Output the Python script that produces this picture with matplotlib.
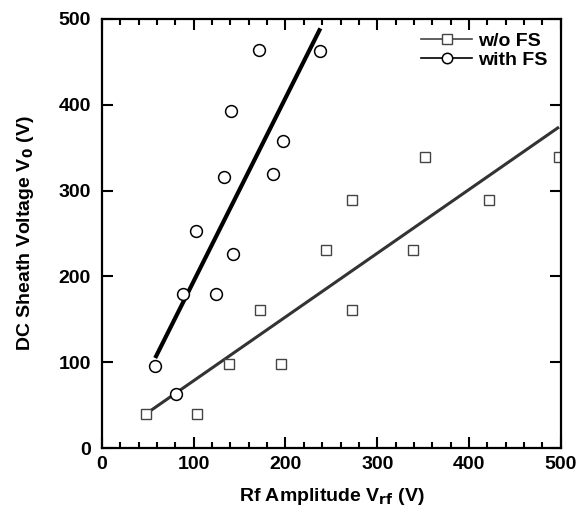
import matplotlib
matplotlib.use("Agg")
import matplotlib.pyplot as plt
from matplotlib.ticker import MultipleLocator

# data
wo_fs_x = [48, 104, 138, 195, 172, 273, 244, 339, 273, 422, 352, 498]
wo_fs_y = [40, 40, 98, 98, 161, 161, 231, 231, 289, 289, 339, 339]

with_fs_x = [58, 81, 88, 124, 102, 143, 133, 186, 197, 141, 171, 238]
with_fs_y = [96, 63, 180, 180, 253, 226, 316, 319, 358, 393, 464, 463]

# straight fit lines (end points)
wo_fit_x = [48, 498]
wo_fit_y = [40, 374]
with_fit_x = [58, 238]
with_fit_y = [105, 489]

font = ['Liberation Sans Narrow', 'Liberation Sans', 'DejaVu Sans']
plt.rcParams['font.family'] = font
plt.rcParams['font.weight'] = 'bold'
plt.rcParams['mathtext.fontset'] = 'custom'
plt.rcParams['mathtext.rm'] = 'Liberation Sans Narrow:bold'
plt.rcParams['mathtext.it'] = 'Liberation Sans Narrow:bold'
plt.rcParams['mathtext.bf'] = 'Liberation Sans Narrow:bold'

fig = plt.figure(figsize=(5.86, 5.11), dpi=100)
ax = fig.add_axes([0.174, 0.123, 0.783, 0.84])

# lines
ax.plot(wo_fit_x, wo_fit_y, color='#333333', lw=2.2, solid_capstyle='butt')
ax.plot(with_fit_x, with_fit_y, color='black', lw=3.0, solid_capstyle='butt')

# markers
ax.plot(wo_fs_x, wo_fs_y, ls='none', marker='s', ms=7.5, mfc='white',
        mec='#444444', mew=1.0)
ax.plot(with_fs_x, with_fs_y, ls='none', marker='o', ms=8.5, mfc='white',
        mec='black', mew=1.1)

# legend handles
h1, = ax.plot([], [], color='#444444', lw=1.2, marker='s', ms=7, mfc='white',
              mec='#444444', mew=1.0, label='w/o FS')
h2, = ax.plot([], [], color='black', lw=1.2, marker='o', ms=7.5, mfc='white',
              mec='black', mew=1.1, label='with FS')
leg = ax.legend(handles=[h1, h2], loc='upper right', frameon=False,
                handlelength=2.6, handletextpad=0.3, labelspacing=0.05,
                borderaxespad=0.3, fontsize=14, markerscale=1.0)

ax.set_xlim(0, 500)
ax.set_ylim(0, 500)
ax.xaxis.set_major_locator(MultipleLocator(100))
ax.xaxis.set_minor_locator(MultipleLocator(20))
ax.yaxis.set_major_locator(MultipleLocator(100))

ax.tick_params(which='both', direction='in', top=True, right=True,
               labelsize=14, width=1.5)
ax.tick_params(which='major', length=8)
ax.tick_params(which='minor', length=4)
ax.tick_params(axis='x', which='major', pad=6)
ax.tick_params(axis='y', which='major', pad=8)
for s in ax.spines.values():
    s.set_linewidth(1.6)

ax.set_xlabel(r'Rf Amplitude V$_{\mathbf{rf}}$ (V)', fontsize=14,
              fontweight='bold', labelpad=9)
ax.set_ylabel(r'DC Sheath Voltage V$_{\mathbf{0}}$ (V)', fontsize=14,
              fontweight='bold', labelpad=16)

fig.savefig('out.png', dpi=100)
